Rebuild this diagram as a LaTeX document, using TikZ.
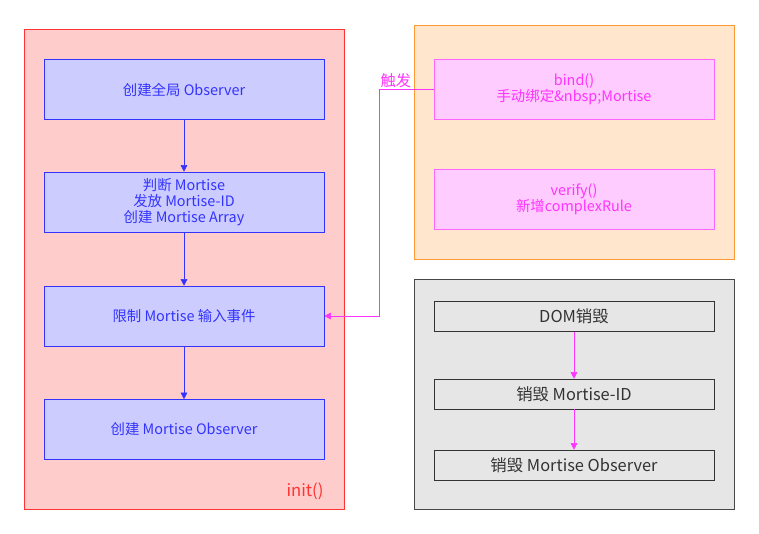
\documentclass[tikz,border=0pt]{standalone}
\usepackage{fontspec}
\setmainfont{Noto Sans CJK SC}
\usetikzlibrary{arrows.meta}
\definecolor{redfill}{HTML}{FFCCCC}
\definecolor{redline}{HTML}{FF3333}
\definecolor{bluefill}{HTML}{CCCCFF}
\definecolor{blueline}{HTML}{3333FF}
\definecolor{orfill}{HTML}{FFE6CC}
\definecolor{orline}{HTML}{FF9933}
\definecolor{pinkfill}{HTML}{FFCCFF}
\definecolor{pinkline}{HTML}{FF66FF}
\definecolor{pinktext}{HTML}{FF33FF}
\definecolor{grayfill}{HTML}{E6E6E6}
\definecolor{grayline}{HTML}{333333}
\tikzset{
  container/.style={rectangle,inner sep=0pt,minimum width=240pt},
  redbox/.style={container,draw=redline,fill=redfill},
  orbox/.style={container,draw=orline,fill=orfill},
  graybox/.style={container,draw=grayline!90,fill=grayfill},
  stepbox/.style={rectangle,inner sep=0pt,minimum width=210pt,align=center,font=\fontsize{10.8}{12}\selectfont},
  bluebox/.style={stepbox,draw=blueline,fill=bluefill,text=blueline,minimum height=45pt},
  pinkbox/.style={stepbox,draw=pinkline,fill=pinkfill,text=pinktext,minimum height=45pt},
  greybox/.style={stepbox,draw=grayline,fill=grayfill,text=grayline,minimum height=22.5pt,font=\fontsize{12.3}{14}\selectfont},
  bluearrow/.style={draw=blueline,-{Triangle[length=5pt,width=5pt]}},
  pinkarrow/.style={draw=pinktext,-{Triangle[length=5pt,width=5pt]}},
}
\begin{document}
\begin{tikzpicture}[x=0.75pt,y=-0.75pt]
\useasboundingbox (0,0) rectangle (759,534);
% containers
\node[redbox,minimum height=360pt] (init) at (184,269) {};
\node[orbox,minimum height=175.5pt] (manual) at (574,142) {};
\node[graybox,minimum height=172.5pt] (destroy) at (574,394) {};
% init steps
\node[bluebox] (b1) at (184,89.5) {创建全局 Observer};
\node[bluebox] (b2) at (184,202) {判断 Mortise\\发放 Mortise-ID\\创建 Mortise Array};
\node[bluebox] (b3) at (184,316) {限制 Mortise 输入事件};
\node[bluebox] (b4) at (184,429.5) {创建 Mortise Observer};
\node[text=redline,font=\fontsize{12.5}{14}\selectfont] (initlabel) at (305,491) {init()};
% manual
\node[pinkbox] (bind) at (574,89) {bind()\\手动绑定\&nbsp;Mortise};
\node[pinkbox] (verify) at (574,199) {verify()\\新增complexRule};
% destroy
\node[greybox] (dom) at (574,316.5) {DOM销毁};
\node[greybox] (mid) at (574,394) {销毁 Mortise-ID};
\node[greybox] (mobs) at (574,465) {销毁 Mortise Observer};
% arrows
\draw[bluearrow] (b1) -- (b2);
\draw[bluearrow] (b2) -- (b3);
\draw[bluearrow] (b3) -- (b4);
\draw[pinkarrow] (dom) -- (mid);
\draw[pinkarrow] (mid) -- (mobs);
\coordinate (c1) at (379,89);
\coordinate (c2) at (379,316);
\draw[pinkarrow] (bind.west) -- (c1) -- (c2) -- (b3.east);
\node[anchor=south west,inner sep=1pt,text=pinktext,font=\fontsize{11.5}{13}\selectfont] (trig) at (c1) {触发};
\end{tikzpicture}
\end{document}
